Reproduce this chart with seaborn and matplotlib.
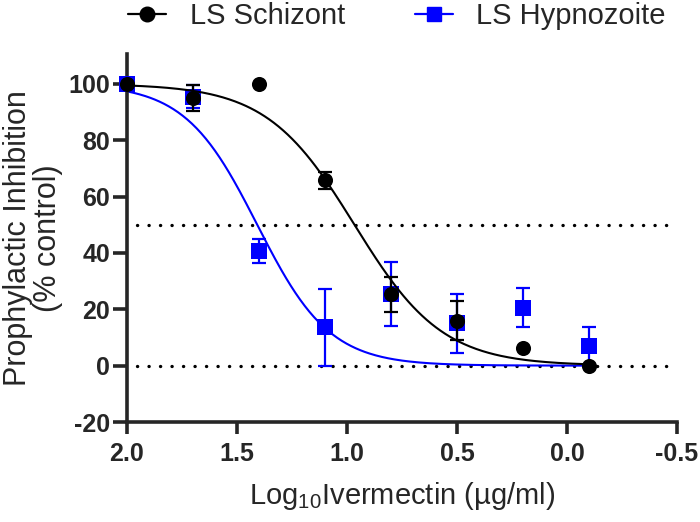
import numpy as np
import pandas as pd
import matplotlib
matplotlib.use("Agg")
import matplotlib.pyplot as plt
from matplotlib.lines import Line2D
import seaborn as sns

# ---------------------------------------------------------
# Data
# ---------------------------------------------------------
log_dose = [2.0, 1.7, 1.4, 1.1, 0.8, 0.5, 0.2, -0.1]

schizont_mean = [100, 95, 100, 65.8, 25.3, 16, 6.4, 0]
schizont_err = [0, 4.6, 0, 3.0, 6.2, 6.9, 0, 0]

hypno_mean = [100, 95.5, 40.7, 13.6, 25.5, 15, 20.6, 6.8]
hypno_err = [0, 4.2, 4.3, 13.6, 11.4, 10.4, 6.8, 6.8]

# 4-parameter logistic fit results: (bottom, top, logIC50, hill slope)
schizont_fit = (0, 100, 0.966, 2.17)
hypno_fit = (0, 100, 1.408, 2.64)

series = ["LS Schizont", "LS Hypnozoite"]
colors = {"LS Schizont": "black", "LS Hypnozoite": "#0000ff"}
markers = {"LS Schizont": "o", "LS Hypnozoite": "s"}


def four_pl(x, bottom, top, log_ic50, hill):
    return bottom + (top - bottom) / (1 + 10 ** ((log_ic50 - x) * hill))


pts = pd.DataFrame({
    "x": log_dose * 2,
    "y": schizont_mean + hypno_mean,
    "err": schizont_err + hypno_err,
    "series": [series[0]] * len(log_dose) + [series[1]] * len(log_dose),
})

x_curve = np.linspace(max(log_dose), min(log_dose), 300)
curves = pd.DataFrame({
    "x": np.concatenate([x_curve, x_curve]),
    "y": np.concatenate([four_pl(x_curve, *schizont_fit), four_pl(x_curve, *hypno_fit)]),
    "series": [series[0]] * len(x_curve) + [series[1]] * len(x_curve),
})

# ---------------------------------------------------------
# Plot
# ---------------------------------------------------------
sns.set_style("ticks")
plt.rcParams["font.family"] = ["Liberation Sans", "DejaVu Sans"]
plt.rcParams["mathtext.default"] = "regular"

fig = plt.figure(figsize=(7, 5.22), dpi=100)
ax = fig.add_axes([127 / 700, 1 - 422 / 522, (677 - 127) / 700, (422 - 54) / 522])

# reference lines
for yref in (50, 0):
    ax.axhline(yref, xmin=0.018, color="black", lw=2.4,
               linestyle=(0, (0.05, 3.4)), dash_capstyle="round", zorder=1)

# blue first so black sits on top
for name, z in ((series[1], 2), (series[0], 4)):
    sub = pts[pts["series"] == name]
    has_err = sub[sub["err"] > 0]
    eb = ax.errorbar(has_err["x"], has_err["y"], yerr=has_err["err"], fmt="none",
                     ecolor=colors[name], elinewidth=1.6, capsize=5, capthick=1.6,
                     zorder=z)
    sns.lineplot(data=curves[curves["series"] == name], x="x", y="y",
                 color=colors[name], lw=1.5, ax=ax, sort=False, zorder=z,
                 legend=False)
    sns.scatterplot(data=sub, x="x", y="y", color=colors[name],
                    marker=markers[name], s=118, linewidth=0, ax=ax,
                    zorder=z + 1, legend=False)

for coll in ax.collections:
    coll.set_clip_on(False)

ax.set_xlim(2.0, -0.5)
ax.set_ylim(-20, 110.6)
ax.set_xticks([2.0, 1.5, 1.0, 0.5, 0.0, -0.5])
ax.set_xticklabels(["2.0", "1.5", "1.0", "0.5", "0.0", "-0.5"])
ax.set_yticks(range(-20, 101, 20))
ax.set_yticklabels([str(v) for v in range(-20, 101, 20)])

for s in ("top", "right"):
    ax.spines[s].set_visible(False)
for s in ("left", "bottom"):
    ax.spines[s].set_linewidth(2.6)
    ax.spines[s].set_capstyle("projecting")

ax.tick_params(axis="both", width=2.6, labelsize=18)
ax.tick_params(axis="y", length=10, pad=2)
ax.tick_params(axis="x", length=8.5, pad=6)
for lab in ax.get_xticklabels() + ax.get_yticklabels():
    lab.set_fontweight("bold")

ax.set_xlabel("Log$_{10}$Ivermectin (µg/ml)", fontsize=21, labelpad=10)
ax.set_ylabel("Prophylactic Inhibition\n(% control)", fontsize=22, labelpad=4,
              linespacing=1.0)

handles = [
    Line2D([], [], color=colors[n], marker=markers[n], lw=1.6, markersize=10.5)
    for n in series
]
fig.legend(handles, series, loc="center", bbox_to_anchor=(0.567, 1 - 16 / 522),
           ncol=2, frameon=False, fontsize=21, handlelength=1.3,
           columnspacing=2.4, handletextpad=0.8, borderpad=0, borderaxespad=0)

plt.savefig("out.png", dpi=100)
plt.close()
